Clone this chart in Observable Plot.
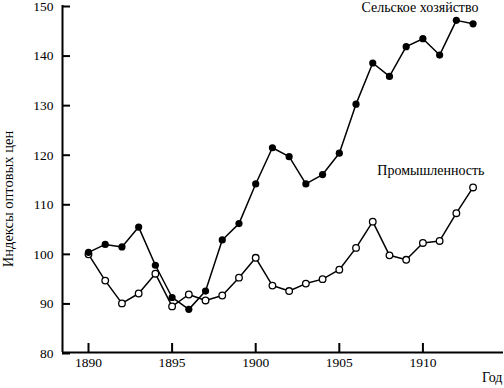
<!DOCTYPE html>
<html>
<head>
<meta charset="utf-8">
<script src="https://cdn.jsdelivr.net/npm/d3@7"></script>
<script src="https://cdn.jsdelivr.net/npm/@observablehq/plot@0.6"></script>
<style>
  html, body { margin: 0; padding: 0; background: #fff; }
  #chart svg { display: block; }
</style>
</head>
<body>
<div id="chart"></div>
<script>
const years = [1890,1891,1892,1893,1894,1895,1896,1897,1898,1899,1900,1901,1902,1903,1904,1905,1906,1907,1908,1909,1910,1911,1912,1913];
const agriculture = [100.2,101.8,101.3,105.3,97.6,91.1,88.7,92.4,102.7,106.0,114.0,121.3,119.5,114.0,115.9,120.2,130.1,138.4,135.7,141.7,143.3,140.0,147.0,146.3];
const industry = [99.8,94.5,89.9,91.9,95.9,89.3,91.7,90.5,91.5,95.1,99.1,93.5,92.4,93.9,94.8,96.7,101.1,106.4,99.6,98.7,102.1,102.5,108.1,113.3];
const xTicks = [1890,1895,1900,1905,1910];
const yTicks = [80,90,100,110,120,130,140,150];
const xDomain = [1888.445, 1914.82];
const yDomain = [80, 150];
const seriesNames = ["Сельское хозяйство","Промышленность"];
const yTitle = "Индексы оптовых цен";
const xTitle = "Год";

const agri = years.map((y,i)=>({year:y, value:agriculture[i]}));
const ind = years.map((y,i)=>({year:y, value:industry[i]}));

const font = "Liberation Serif";

const chart = Plot.plot({
  width: 504,
  height: 388,
  marginLeft: 62,
  marginRight: 1,
  marginTop: 5,
  marginBottom: 36,
  style: {fontSize: "14px", fontFamily: font, color: "#000", background: "#fff"},
  x: {domain: xDomain, axis: null},
  y: {domain: yDomain, axis: null},
  marks: [
    Plot.ruleX([xDomain[0]], {stroke: "#000", strokeWidth: 2}),
    Plot.ruleY([yDomain[0]], {stroke: "#000", strokeWidth: 2}),
    Plot.axisY(yTicks, {tickSize: -8, tickPadding: 17, dy: 1, fontSize: 13.5, fontFamily: font, label: null, strokeWidth: 2}),
    Plot.axisX(xTicks, {tickSize: -9, tickPadding: 14, fontSize: 13.5, fontFamily: font, label: null, strokeWidth: 2, tickFormat: d => String(d)}),
    Plot.line(ind, {x: "year", y: "value", stroke: "#000", strokeWidth: 1.5}),
    Plot.line(agri, {x: "year", y: "value", stroke: "#000", strokeWidth: 1.5}),
    Plot.dot(ind, {x: "year", y: "value", r: 3.3, fill: "#fff", stroke: "#000", strokeWidth: 1.3}),
    Plot.dot(agri, {x: "year", y: "value", r: 3.6, fill: "#000", stroke: "none"}),
    Plot.text([seriesNames[0]], {text: d => d, frameAnchor: "top-right", textAnchor: "end", lineAnchor: "middle", dx: -25, dy: 2, fontSize: 14, fontFamily: font}),
    Plot.text([seriesNames[1]], {text: d => d, frameAnchor: "top-right", textAnchor: "end", lineAnchor: "middle", dx: -19, dy: 165, fontSize: 14, fontFamily: font}),
    Plot.text([xTitle], {text: d => d, frameAnchor: "bottom-right", textAnchor: "end", lineAnchor: "middle", dx: -1, dy: 25, fontSize: 14, fontFamily: font}),
    Plot.text([yTitle], {text: d => d, frameAnchor: "left", rotate: -90, textAnchor: "middle", lineAnchor: "middle", dx: -54, dy: 20, fontSize: 14.5, fontFamily: font})
  ]
});
document.getElementById("chart").appendChild(chart);
</script>
</body>
</html>
